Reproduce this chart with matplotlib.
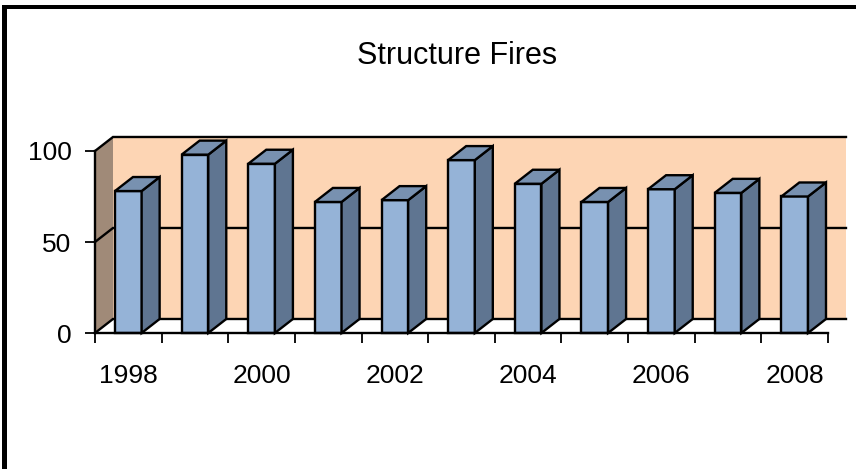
import matplotlib.pyplot as plt
from matplotlib.patches import Polygon, Rectangle

plt.rcParams['font.family'] = ['Liberation Sans', 'DejaVu Sans']

# ── data ──────────────────────────────────────────────────────────────
years = [1998, 1999, 2000, 2001, 2002, 2003, 2004, 2005, 2006, 2007, 2008]
fires = [78, 98, 93, 72, 73, 95, 82, 72, 79, 77, 75]
yticks = [0, 50, 100]

# ── colours / geometry ────────────────────────────────────────────────
FRONT = '#95b3d7'
SIDE = '#5f7591'
TOP = '#7891b0'
BACK_WALL = '#fdd5b4'
SIDE_WALL = '#a08a78'
DX, DY = 0.27, 7.7          # depth offset in data units
BAR_W = 0.40

fig = plt.figure(figsize=(8.56, 4.69), dpi=100)
ax = fig.add_axes([95 / 856, 136 / 469, 733 / 856, 182 / 469])
n = len(years)
x0, x1 = -0.5, n - 0.5
ax.set_xlim(x0, x1)
ax.set_ylim(0, 100)
ax.patch.set_visible(False)

kw = dict(clip_on=False, lw=1.7, joinstyle='miter')

# back wall
ax.add_patch(Polygon([(x0 + DX, DY), (x1 + DX, DY), (x1 + DX, 100 + DY), (x0 + DX, 100 + DY)],
                     closed=True, fc=BACK_WALL, ec='none', clip_on=False, zorder=0))
# left wall
ax.add_patch(Polygon([(x0, 0), (x0 + DX, DY), (x0 + DX, 100 + DY), (x0, 100)],
                     closed=True, fc=SIDE_WALL, ec='none', clip_on=False, zorder=0))
# floor
ax.add_patch(Polygon([(x0, 0), (x0 + DX, DY), (x1 + DX, DY), (x1, 0)],
                     closed=True, fc='white', ec='none', clip_on=False, zorder=0))

# gridlines on back wall and left wall
for v in yticks:
    ax.plot([x0, x0 + DX, x1 + DX], [v, v + DY, v + DY], color='black',
            lw=1.7, clip_on=False, zorder=1, solid_joinstyle='miter')

# bars
for i, v in enumerate(fires):
    l, r = i - BAR_W / 2, i + BAR_W / 2
    ax.add_patch(Polygon([(l, 0), (r, 0), (r, v), (l, v)], fc=FRONT, ec='black', zorder=3, **kw))
    ax.add_patch(Polygon([(r, 0), (r + DX, DY), (r + DX, v + DY), (r, v)], fc=SIDE, ec='black', zorder=3, **kw))
    ax.add_patch(Polygon([(l, v), (r, v), (r + DX, v + DY), (l + DX, v + DY)], fc=TOP, ec='black', zorder=3, **kw))

# axes
for s in ['top', 'right']:
    ax.spines[s].set_visible(False)
for s in ['left', 'bottom']:
    ax.spines[s].set_linewidth(1.7)
    ax.spines[s].set_zorder(4)

ax.set_yticks(yticks)
ax.tick_params(axis='y', length=7, width=1.3, pad=10, labelsize=19, direction='out')

ax.set_xticks([x0 + k for k in range(n + 1)])
ax.set_xticklabels([])
ax.tick_params(axis='x', which='major', length=7, width=1.3, direction='out')
ax.set_xticks(range(n), minor=True)
ax.set_xticklabels([str(y) if k % 2 == 0 else '' for k, y in enumerate(years)], minor=True)
ax.tick_params(axis='x', which='minor', length=0, pad=22, labelsize=19)

# title
fig.text(457 / 856, 1 - 64 / 469, 'Structure Fires', ha='center', va='baseline', fontsize=22)

# outer frame (left and top thick black edges)
fig.add_artist(Rectangle((2 / 856, 0), 5 / 856, 1 - 5 / 469, transform=fig.transFigure,
                         fc='black', ec='none'))
fig.add_artist(Rectangle((2 / 856, 1 - 9.5 / 469), 1, 4.5 / 469, transform=fig.transFigure,
                         fc='black', ec='none'))

fig.savefig('out.png', dpi=100)
